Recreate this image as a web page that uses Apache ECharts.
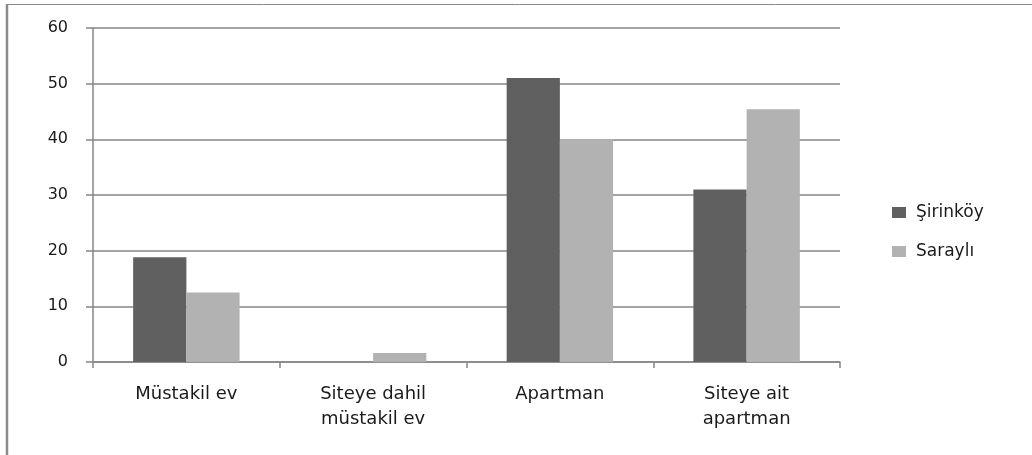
<!DOCTYPE html>
<html>
<head>
<meta charset="utf-8">
<script src="https://cdn.jsdelivr.net/npm/echarts@6/dist/echarts.min.js"></script>
<style>
html,body{margin:0;padding:0;background:#fff;}
#c{width:1032px;height:455px;}
</style>
</head>
<body>
<div id="c"></div>
<script>
var categories = ['Müstakil ev', 'Siteye dahil\nmüstakil ev', 'Apartman', 'Siteye ait\napartman'];
var sirinkoy = [18.8, 0, 51, 31];
var sarayli = [12.5, 1.6, 40, 45.4];
var seriesNames = ['Şirinköy', 'Saraylı'];

var chart = echarts.init(document.getElementById('c'), null, {renderer: 'canvas'});
var axisColor = '#868686';
chart.setOption({
  animation: false,
  backgroundColor: '#fff',
  graphic: [
    {type: 'line', shape: {x1: 7, y1: 4, x2: 7, y2: 455}, style: {stroke: '#8a8a8a', lineWidth: 2.5}},
    {type: 'line', shape: {x1: 7, y1: 4.5, x2: 1032, y2: 4.5}, style: {stroke: '#8a8a8a', lineWidth: 1}}
  ],
  grid: {left: 93, right: 192, top: 28, bottom: 93, containLabel: false},
  legend: {
    orient: 'vertical',
    left: 887,
    top: 199,
    icon: 'rect',
    itemWidth: 14,
    itemHeight: 11,
    itemGap: 22,
    data: seriesNames,
    textStyle: {fontFamily: 'DejaVu Sans', fontSize: 17, color: '#1a1a1a', lineHeight: 17, padding: [0, 0, 0, 5]}
  },
  xAxis: {
    type: 'category',
    data: categories,
    axisLine: {lineStyle: {color: axisColor, width: 1.5}},
    axisTick: {show: true, length: 6, alignWithLabel: false, lineStyle: {color: axisColor, width: 1.5}},
    axisLabel: {fontFamily: 'DejaVu Sans', fontSize: 18, color: '#1a1a1a', lineHeight: 25, margin: 20, interval: 0}
  },
  yAxis: {
    type: 'value',
    min: 0,
    max: 60,
    interval: 10,
    axisLine: {show: true, lineStyle: {color: axisColor, width: 1.5}},
    axisTick: {show: true, length: 7, lineStyle: {color: axisColor, width: 1.5}},
    axisLabel: {fontFamily: 'DejaVu Sans', fontSize: 16, color: '#1a1a1a', margin: 25},
    splitLine: {lineStyle: {color: axisColor, width: 1.5}}
  },
  series: [
    {name: seriesNames[0], type: 'bar', data: sirinkoy, barGap: '0%', barCategoryGap: '43%', itemStyle: {color: '#606060'}},
    {name: seriesNames[1], type: 'bar', data: sarayli, barGap: '0%', barCategoryGap: '43%', itemStyle: {color: '#b2b2b2'}}
  ]
});
</script>
</body>
</html>
